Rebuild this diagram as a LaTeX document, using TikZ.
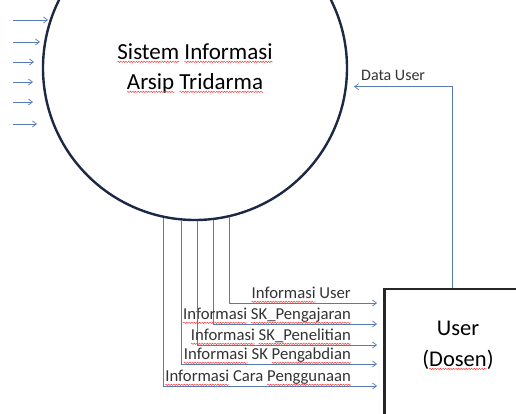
\documentclass[tikz,border=0pt]{standalone}
\usepackage{fontspec}
\setmainfont{Carlito}
\usetikzlibrary{calc}
\usetikzlibrary{arrows.meta}
\usetikzlibrary{decorations.pathmorphing}

\definecolor{flowblue}{RGB}{88,122,178}
\definecolor{rimblue}{RGB}{28,40,68}
% red spell-check wave under a word
\newdimen\typowd
\newcommand\typo[1]{\leavevmode\setbox0=\hbox{#1}\typowd=\wd0\box0\relax
	\tikz[overlay,baseline]\draw[red!80, line width=0.45pt, decorate,
		decoration={snake, amplitude=0.7pt, segment length=2.6pt}] (-\typowd,-2.8pt) -- (0,-2.8pt);}

\begin{document}
\begin{tikzpicture}[
		x=1pt, y=1pt,
		>={Straight Barb[length=4pt,width=6pt]},
		flow/.style={draw=flowblue, line width=0.7pt, ->},
		process/.style={circle, draw=rimblue, line width=2.4pt, minimum size=304pt, inner sep=0pt,
				align=center, font=\fontsize{23}{30}\selectfont},
		entity/.style={rectangle, draw=black!85, line width=2.5pt, minimum width=150pt,
				minimum height=150pt, anchor=north west},
		flowlabel/.style={font=\fontsize{16.7}{18}\selectfont, text=black!80, inner sep=0pt},
	]
	\useasboundingbox (0,0) rectangle (516,414);
	\clip (0,0) rectangle (516,414);
	\fill[white] (0,0) rectangle (516,414);

	% process and external entity
	\node[process] (sys) at (195,346) {\typo{Sistem} \typo{Informasi}\\\typo{Arsip} \typo{Tridarma}};
	\node[entity] (user) at (383,126) {};
	\node[font=\fontsize{22.5}{31}\selectfont, align=center] (userlbl)
		at ($(user.north west)+(75,-57)$) {User\\(\typo{Dosen})};

	% incoming flows on the left
	\foreach \y/\e in {394/48, 372/40, 352/34, 332/33, 312/33, 290/37}
		\draw[flow] (13,\y) -- (\e,\y);

	% user -> system
	\coordinate (fromuser) at ($(user.north west)+(69,0)$);
	\draw[flow, shorten >=7pt] (fromuser) |- (sys.-7.5);
	\node[flowlabel, font=\fontsize{16}{18}\selectfont, anchor=base west] (datalbl) at (361,333) {Data User};

	% system -> user
	\foreach \ang/\dy/\txt [count=\i] in {
			-77.46/15/{\typo{Informasi} User},
			-83.96/36/{\typo{Informasi} \typo{SK\_Pengajaran}},
			-89.25/57/{\typo{Informasi} \typo{SK\_Penelitian}},
			-95.66/76/{\typo{Informasi} SK \typo{Pengabdian}},
			-102.54/98/{\typo{Informasi} Cara \typo{Penggunaan}}}{
		\coordinate (out\i) at ($(user.north west)+(-6,-\dy)$);
		\draw[flow] (sys.\ang) |- (out\i);
		\node[flowlabel, anchor=base east] (lbl\i) at ($(out\i)+(-26,4)$) {\txt};
	}
\end{tikzpicture}
\end{document}
